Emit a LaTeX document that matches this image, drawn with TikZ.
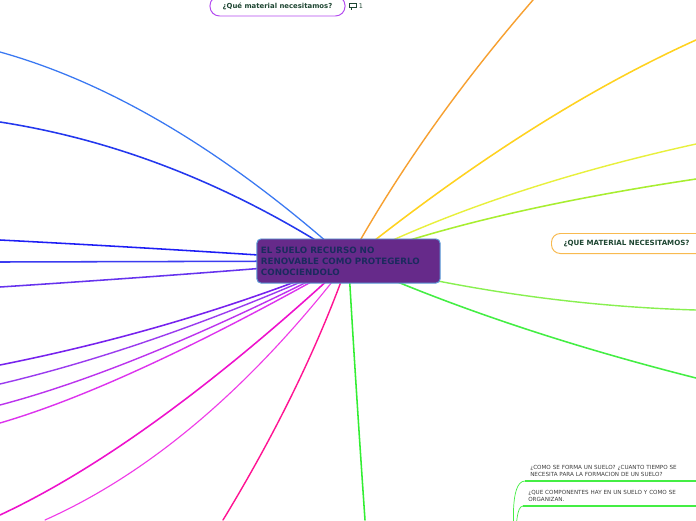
\documentclass[tikz,border=0pt]{standalone}
\usepackage{fontspec}
\setmainfont{DejaVu Sans}
\usetikzlibrary{calc, backgrounds}
\definecolor{maproot}{RGB}{102, 42, 138}
\definecolor{mapedge}{RGB}{90, 155, 216}
\definecolor{mapink}{RGB}{27, 42, 94}
\definecolor{maptext}{RGB}{30, 70, 50}
\definecolor{mapgrey}{RGB}{60, 60, 60}
\definecolor{mapsky}{RGB}{58, 120, 242}
\definecolor{mapnavy}{RGB}{36, 56, 238}
\definecolor{mapblue}{RGB}{30, 30, 245}
\definecolor{mapindigo}{RGB}{60, 60, 240}
\definecolor{mapviolet}{RGB}{102, 51, 238}
\definecolor{mappurple}{RGB}{119, 34, 238}
\definecolor{mapgrape}{RGB}{154, 59, 239}
\definecolor{maplilac}{RGB}{187, 51, 238}
\definecolor{maporchid}{RGB}{221, 51, 238}
\definecolor{mapmagenta}{RGB}{238, 17, 204}
\definecolor{mapfuchsia}{RGB}{240, 60, 232}
\definecolor{mappink}{RGB}{255, 20, 147}
\definecolor{mapgreen}{RGB}{51, 238, 51}
\definecolor{maporange}{RGB}{247, 160, 48}
\definecolor{mapgold}{RGB}{255, 210, 31}
\definecolor{mapyellow}{RGB}{232, 240, 60}
\definecolor{maplime}{RGB}{168, 238, 48}
\definecolor{mapleaf}{RGB}{136, 240, 80}
\definecolor{mapmint}{RGB}{68, 238, 68}
\definecolor{maptopline}{RGB}{180, 76, 240}
\definecolor{mapsideline}{RGB}{248, 186, 80}

\begin{document}
\begin{tikzpicture}[
        x=0.025cm, y=-0.025cm,
        root/.style={draw=mapedge, line width=0.7pt, fill=maproot, rounded corners=2.8pt, text=mapink, font=\bfseries\fontsize{6.2}{7.8}\selectfont, align=left, text width=4.375cm, minimum width=4.575cm, minimum height=1.1cm, inner sep=0.1cm},
        topic/.style={line width=0.7pt, fill=white, text=maptext, minimum height=0.5cm},
        item/.style={font=\fontsize{4}{5}\selectfont, text=mapgrey, align=left, text width=4.2cm, inner xsep=0.125cm, inner ysep=0.1cm, anchor=south west},
        branch/.style={line width=1.1pt, line cap=round},
        twig/.style={mapmint, line width=0.5pt},
        itemline/.style={mapmint, line width=1.2pt}
      ]
        \path[use as bounding box] (0,0) rectangle (696,520);
        \clip (0,0) rectangle (696,520);
        \node[root] (root) at (348.5,261) {EL SUELO RECURSO NO\\RENOVABLE COMO PROTEGERLO\\CONOCIENDOLO};
        \node[topic, draw=maptopline, rounded corners=0.24cm, minimum width=3.375cm, font=\bfseries\fontsize{4.9}{6}\selectfont] (matTop) at (277.5,6) {¿Qué material necesitamos?};
        \node[topic, draw=mapsideline, rounded corners=0.22cm, anchor=west, align=left, text width=4.4cm, inner xsep=0.3cm, font=\bfseries\fontsize{5.05}{6}\selectfont] (matSide) at (551,243.5) {¿QUE MATERIAL NECESITAMOS?};
        \node[text=maptext, font=\fontsize{4.6}{5}\selectfont, inner sep=0pt] (cmt) at (361,6) {1};
        \draw[maptext, line width=0.5pt] ($(cmt.west)+(-9,-2.5)$) rectangle ($(cmt.west)+(-2,1.5)$);
        \draw[maptext, line width=0.5pt] ($(cmt.west)+(-7,1.5)$) -- ($(cmt.west)+(-7,3.5)$);
        \node[item] (formA) at (525,481) {¿COMO SE FORMA UN SUELO? ¿CUANTO TIEMPO SE\\NECESITA PARA LA FORMACION DE UN SUELO?};
        \node[item] (formB) at (523,506) {¿QUE COMPONENTES HAY EN UN SUELO Y COMO SE\\ORGANIZAN.};
        \coordinate (leafA) at (513,522);
        \coordinate (leafB) at (516,522);
        \draw[twig] (leafA) to[out=-82, in=180] (formA.south west);
        \draw[twig] (leafB) to[out=-82, in=180] (formB.south west);
        \draw[itemline] (formA.south west) -- (formA.south east);
        \draw[itemline] (formB.south west) -- (formB.south east);
        \begin{scope}[on background layer]
          \fill[white] (0,0) rectangle (696,520);
          \clip (0,0) rectangle (696,520);
          \foreach \ex/\ey/\qx/\qy/\col/\w [count=\i] in {
              0/52/168/99/mapsky/0.9, 0/122/180/150/mapnavy/1.1,
              0/240/174/249/mapblue/1.1, 0/262/174/261.5/mapindigo/1.1,
              0/287/200/274/mapviolet/1.1, 0/365/185/328/mappurple/1.1,
              0/384/160/346/mapgrape/1, 0/405/140/368/maplilac/1,
              0/423/130/385/maporchid/1, 0/515/150/445/mapmagenta/1.1,
              45/520/204/449/mapfuchsia/0.8, 223/520/305/385/mappink/1,
              365/520/356/390/mapgreen/1.1, 533/0/422/128/maporange/1,
              696/40/532/114/mapgold/1.1, 696/144/492/189/mapyellow/1,
              696/179/477/212/maplime/1.1, 696/310/523/305/mapleaf/1,
              696/378/498/328/mapmint/1.1} {
            \coordinate (end\i) at (\ex,\ey);
            \draw[branch, \col, line width=\w pt] (root.center) .. controls ($(root.center)!2/3!(\qx,\qy)$) and ($(end\i)!2/3!(\qx,\qy)$) .. (end\i);
          }
        \end{scope}
      \end{tikzpicture}
\end{document}
